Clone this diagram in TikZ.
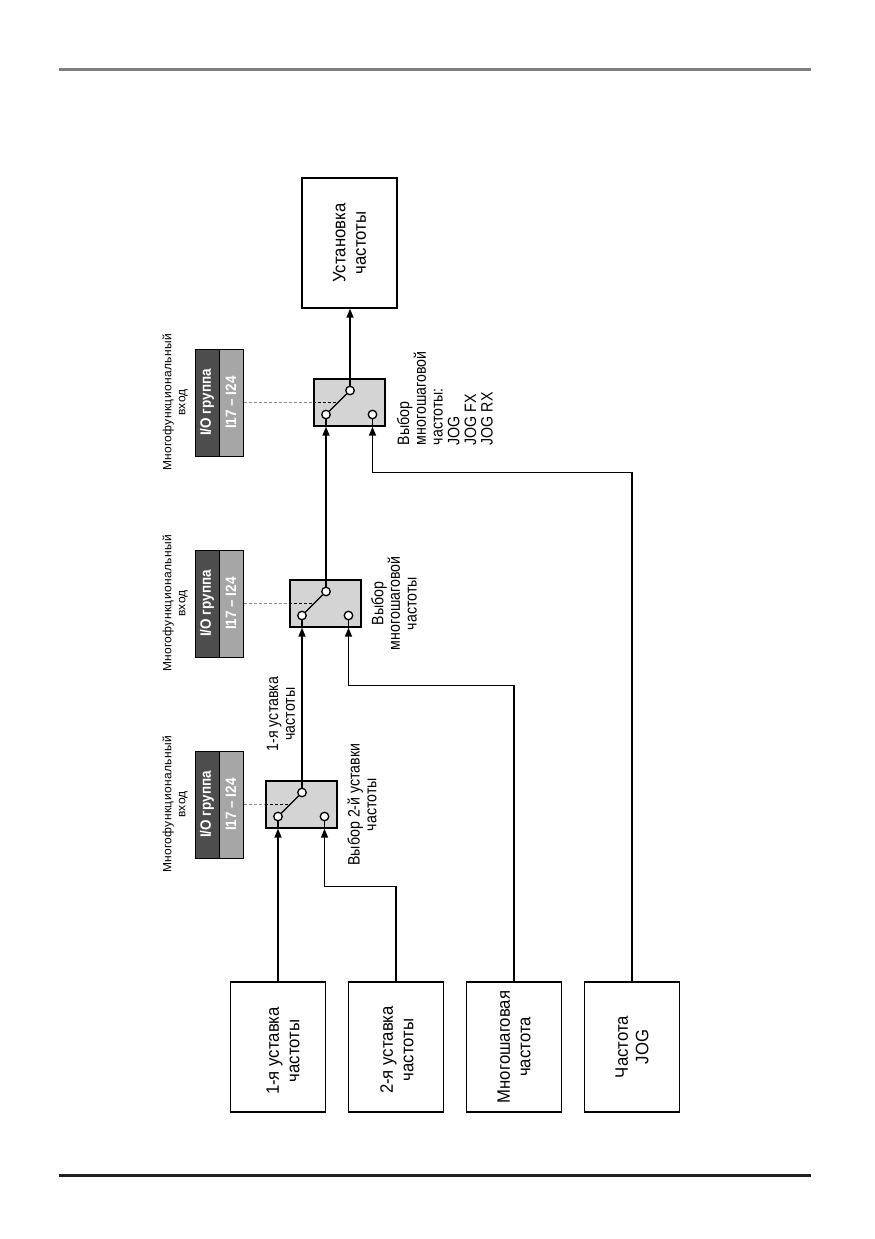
\documentclass[tikz,border=0pt]{standalone}
\usepackage{fontspec}
\setmainfont{Liberation Sans}
\newfontfamily\smallfont{Liberation Sans}[LetterSpace=3]
\newfontfamily\condfont{Liberation Sans}[FakeStretch=0.86]
\newfontfamily\boxfont{Liberation Sans}[FakeStretch=0.93]
\newfontfamily\iofont{Liberation Sans}[FakeStretch=0.9]
\usetikzlibrary{arrows.meta,calc}
\definecolor{swgray}{HTML}{D4D4D4}
\definecolor{iodark}{HTML}{4D4D4D}
\definecolor{iolight}{HTML}{A6A6A6}
\definecolor{rulegray}{HTML}{7F7F7F}
\definecolor{dashgray}{HTML}{8C8C8C}
\begin{document}
\begin{tikzpicture}[x=1pt,y=-1pt,
 line width=1.5pt,
 arr/.style={-{Triangle[length=9pt,width=7pt]}},
 srcbox/.style={draw, line width=1.4pt, minimum width=95pt, minimum height=130pt, inner sep=0pt},
 swbox/.style={draw, fill=swgray, line width=1.3pt, minimum width=71pt, minimum height=47pt, inner sep=0pt},
 pinc/.style={circle, draw, fill=white, minimum size=8.5pt, inner sep=0pt, line width=1.3pt},
 iobox/.style={draw, line width=1pt, rotate=90, minimum width=107pt, minimum height=24pt, inner sep=0pt, text=white, font=\iofont\bfseries\fontsize{15}{15}\selectfont},
 boxtxt/.style={rotate=90, align=center, inner sep=0pt, font=\boxfont\fontsize{18}{20.5}\selectfont},
 lbl/.style={rotate=90, align=center, inner sep=0pt, font=\condfont\fontsize{16.5}{16.7}\selectfont},
 mlbl/.style={rotate=90, align=center, inner sep=0pt, font=\smallfont\fontsize{12}{14}\selectfont},
 dashg/.style={dashgray, dash pattern=on 3pt off 2pt, line width=0.8pt},
 dashk/.style={black, dash pattern=on 3pt off 2pt, line width=0.8pt}
]
\useasboundingbox (0,0) rectangle (875,1239);

% page rules
\draw[rulegray, line width=3pt] (59,70) -- (811,70);
\draw[black!88, line width=3pt] (59,1175) -- (811,1175);

% source boxes
\node[srcbox] (s1) at (278,1047) {};
\node[srcbox] (s2) at (396,1047) {};
\node[srcbox] (s3) at (514,1047) {};
\node[srcbox] (s4) at (632,1047) {};
\node[boxtxt] (t1) at ($(s1)+(5,4)$) {1-я уставка\\частоты};
\node[boxtxt] (t2) at ($(s2)+(1,3)$) {2-я уставка\\частоты};
\node[boxtxt] (t3) at (s3) {Многошаговая\\частота};
\node[boxtxt] (t4) at (s4) {Частота\\JOG};

% output box
\node[srcbox] (out) at (349.5,243) {};
\node[boxtxt] (tout) at (out) {Установка\\частоты};

% switches
\foreach \n/\cx/\cy in {1/301.5/804.5, 2/325.5/603.5, 3/349.5/402.5}{
  \node[swbox] (sw\n) at (\cx,\cy) {};
  \node[pinc] (sw\n a) at ($(sw\n)+(-23.5,12)$) {};
  \node[pinc] (sw\n t) at ($(sw\n)+(0.5,-12)$) {};
  \node[pinc] (sw\n b) at ($(sw\n)+(23,12)$) {};
  \draw[line width=1.3pt] (sw\n a) -- (sw\n t);
  \draw[line width=1.3pt] (sw\n a) -- (sw\n a |- sw\n.south);
  \draw[line width=1.3pt] (sw\n b) -- (sw\n b |- sw\n.south);
  % I/O block
  \node[iobox, fill=iodark] (io\n a) at (207,\cy) {I/O группа};
  \node[iobox, fill=iolight] (io\n b) at (231,\cy) {I17 – I24};
  \node[mlbl] (m\n) at (175,\cy) {Многофункциональный\\вход};
  \draw[dashg] (io\n b.south) -- (sw\n.west);
  \draw[dashk] (sw\n.west) -- ($(sw\n a)!0.5!(sw\n t)$);
}

% connectors
\draw[arr] (s1.north) -- (s1.north |- sw1.south);
\draw[arr] (s2.north) -- ++(0,-95) -| (sw1b |- sw1.south);
\draw[arr] (s3.north) -- ++(0,-296) -| (sw2b |- sw2.south);
\draw[arr] (s4.north) -- ++(0,-509) -| (sw3b |- sw3.south);
\draw[arr] (sw1t) -- (sw1t |- sw2.south);
\draw[arr] (sw2t) -- (sw2t |- sw3.south);
\draw[arr] (sw3t) -- (sw3t |- out.south);

% labels
\node[lbl] (l1) at (281,714) {1-я уставка\\частоты};
\node[lbl] (l2) at (362,804.5) {Выбор 2-й уставки\\частоты};
\node[lbl] (l3) at (394,603.5) {Выбор\\многошаговой\\частоты};
\node[lbl, align=left, anchor=west] (l4) at (445,446) {Выбор\\многошаговой\\частоты:\\JOG\\JOG FX\\JOG RX};
\end{tikzpicture}
\end{document}
